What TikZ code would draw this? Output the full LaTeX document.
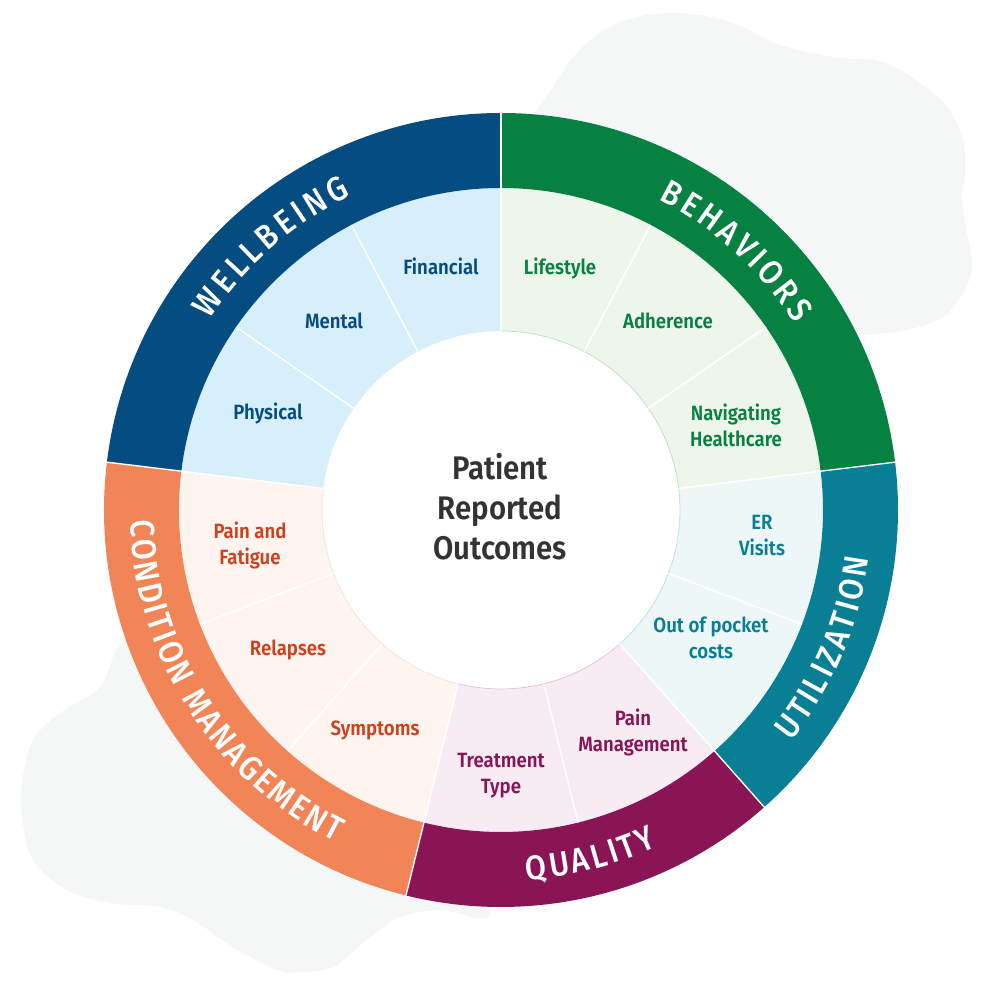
\documentclass[tikz,border=0pt]{standalone}
\usepackage{fontspec}
\setmainfont{Fira Sans}[UprightFont=* Medium, BoldFont=* SemiBold, FakeStretch=0.9]
\usetikzlibrary{decorations.text}
\definecolor{blobc}{HTML}{F5F7F7}
\definecolor{wbDark}{HTML}{054C80}
\definecolor{wbLight}{HTML}{D7EEFB}
\definecolor{bhDark}{HTML}{068142}
\definecolor{bhLight}{HTML}{EEF6EC}
\definecolor{utDark}{HTML}{087F95}
\definecolor{utLight}{HTML}{EEF7F7}
\definecolor{quDark}{HTML}{8A1556}
\definecolor{quLight}{HTML}{F8ECF4}
\definecolor{cmDark}{HTML}{F28558}
\definecolor{cmLight}{HTML}{FEF5F0}
\definecolor{cmText}{HTML}{D0401F}
\definecolor{centerText}{HTML}{333333}
\newcommand\wedgefill[5]{\fill[#1] (#2:#4) arc[start angle=#2, end angle=#3, radius=#4] -- (#3:#5) arc[start angle=#3, end angle=#2, radius=#5] -- cycle;}
\newcommand\outerfont{\fontsize{25.5}{26}\selectfont}
\tikzset{
  seglabel/.style={align=center, font=\fontsize{15.5}{19.5}\selectfont\bfseries, inner sep=0pt},
  sepline/.style={white, line width=1pt},
  innerrim/.style={line width=0.6pt},
  bandtext/.style={decorate, decoration={text along path, text align=fit to path, text color=white, text={|\outerfont|#1}}}
}
\begin{document}
\begin{tikzpicture}[x=0.75pt,y=0.75pt]
\useasboundingbox (0,0) rectangle (1000,1000);
% background blobs
\fill[blobc] plot[smooth cycle, tension=0.6] coordinates {(515,850) (537,890) (553,913) (573,943) (600,967) (633,982) (680,987) (733,977) (780,955) (833,943) (883,938) (920,917) (947,893) (963,860) (965,827) (962,800) (967,767) (972,733) (963,707) (943,683) (907,670) (867,665) (840,660) (720,620) (580,740)};
\fill[blobc] plot[smooth cycle, tension=0.6] coordinates {(127,360) (100,313) (60,287) (33,260) (22,217) (22,183) (33,140) (67,110) (110,97) (160,93) (193,80) (233,53) (277,30) (300,28) (333,33) (367,60) (400,83) (440,90) (490,94) (400,250) (200,350)};
\begin{scope}[shift={(501,490)}]
  % inner segments
  \wedgefill{bhLight}{90}{6.9231}{179}{322}
  \wedgefill{utLight}{6.9231}{-48.4615}{179}{322}
  \wedgefill{quLight}{-48.4615}{-103.8462}{179}{322}
  \wedgefill{cmLight}{-103.8462}{-186.9231}{179}{322}
  \wedgefill{wbLight}{173.0769}{90}{179}{322}
  % outer bands
  \wedgefill{bhDark}{90}{6.9231}{322}{397}
  \wedgefill{utDark}{6.9231}{-48.4615}{322}{397}
  \wedgefill{quDark}{-48.4615}{-103.8462}{322}{397}
  \wedgefill{cmDark}{-103.8462}{-186.9231}{322}{397}
  \wedgefill{wbDark}{173.0769}{90}{322}{397}
  % inner rim lines
  \draw[innerrim, bhDark!25] (90:179) arc[start angle=90, end angle=6.9231, radius=179];
  \draw[innerrim, utDark!25] (6.9231:179) arc[start angle=6.9231, end angle=-48.4615, radius=179];
  \draw[innerrim, quDark!25] (-48.4615:179) arc[start angle=-48.4615, end angle=-103.8462, radius=179];
  \draw[innerrim, cmDark!25] (-103.8462:179) arc[start angle=-103.8462, end angle=-186.9231, radius=179];
  % separators between inner segments
  \foreach \a in {62.3077,34.6154,-20.7692,-76.1538,-131.5385,-159.2308,145.3846,117.6923}
    \draw[sepline] (\a:179) -- (\a:322);
  % separators between groups
  \foreach \a in {90,6.9231,-48.4615,-103.8462,173.0769}
    \draw[sepline] (\a:179) -- (\a:397);
  % band titles
  \path[bandtext=WELLBEING] (146.8:348) arc[start angle=146.8, end angle=115.5, radius=348];
  \path[bandtext=BEHAVIORS] (63.1:348) arc[start angle=63.1, end angle=32.4, radius=348];
  \path[bandtext=UTILIZATION] (-38.5:371) arc[start angle=-38.5, end angle=-7.5, radius=371];
  \path[bandtext=QUALITY] (-86:371) arc[start angle=-86, end angle=-65, radius=371];
  \path[bandtext=CONDITION MANAGEMENT] (181.6:371) arc[start angle=181.6, end angle=243.6, radius=371];
\end{scope}
% segment labels
\node[seglabel, text=wbDark] (financial) at (441,734) {Financial};
\node[seglabel, text=wbDark] (mental) at (334,679) {Mental};
\node[seglabel, text=wbDark] (physical) at (268,587) {Physical};
\node[seglabel, text=bhDark] (lifestyle) at (560,732) {Lifestyle};
\node[seglabel, text=bhDark] (adherence) at (668,679) {Adherence};
\node[seglabel, text=bhDark] (navigating) at (736,575) {Navigating\\Healthcare};
\node[seglabel, text=utDark] (er) at (762,464) {ER\\Visits};
\node[seglabel, text=utDark] (oop) at (711,362) {Out of pocket\\costs};
\node[seglabel, text=quDark] (painmgmt) at (633,268) {Pain\\Management};
\node[seglabel, text=quDark] (treatment) at (501,224) {Treatment\\Type};
\node[seglabel, text=cmText] (symptoms) at (375,270) {Symptoms};
\node[seglabel, text=cmText] (relapses) at (288,350) {Relapses};
\node[seglabel, text=cmText] (painfatigue) at (250,455) {Pain and\\Fatigue};
\node[align=center, text=centerText, font=\fontsize{24.5}{30}\selectfont\bfseries, inner sep=0pt] (center) at (500,493) {Patient\\Reported\\Outcomes};
\end{tikzpicture}
\end{document}
